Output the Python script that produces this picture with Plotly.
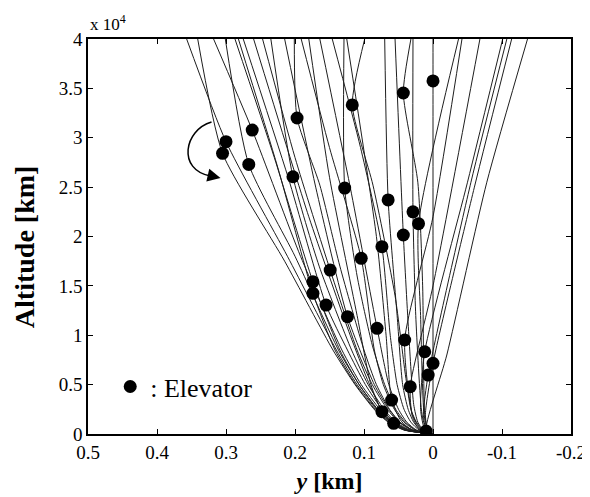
import plotly.graph_objects as go

# Elevator event points (lateral position y [km], altitude [km])
elev_x = [0.300, 0.305, 0.262, 0.267, 0.174, 0.174, 0.155, 0.149, 0.203, 0.057,
          0.124, 0.197, 0.104, 0.074, 0.128, 0.081, 0.074, 0.065, 0.117, 0.060,
          0.043, 0.043, 0.029, 0.000, 0.021, 0.041, 0.033, 0.012, 0.007, 0.000, 0.010]
elev_y = [29600, 28420, 30780, 27300, 15420, 14250, 13060, 16600, 26050, 1080,
          11880, 32000, 17790, 2260, 24900, 10700, 18970, 23700, 33320, 3440,
          20150, 34530, 22500, 35750, 21300, 9520, 4790, 8330, 5970, 7160, 300]

# Trajectories (x = lateral [km], y = altitude [km])
traj_x = [
    [0, 0.040, 0.062, 0.082, 0.110, 0.140, 0.211, 0.300, 0.357],
    [0, 0.042, 0.065, 0.084, 0.113, 0.145, 0.215, 0.305, 0.341],
    [0, 0.036, 0.058, 0.077, 0.104, 0.132, 0.192, 0.262, 0.318],
    [0, 0.038, 0.060, 0.080, 0.107, 0.137, 0.200, 0.267, 0.301],
    [0, 0.040, 0.062, 0.081, 0.107, 0.135, 0.174, 0.230, 0.287],
    [0, 0.041, 0.064, 0.084, 0.112, 0.142, 0.174, 0.225, 0.282],
    [0, 0.035, 0.056, 0.074, 0.098, 0.124, 0.155, 0.210, 0.275],
    [0, 0.030, 0.050, 0.066, 0.088, 0.110, 0.149, 0.200, 0.247],
    [0, 0.033, 0.054, 0.071, 0.094, 0.118, 0.165, 0.203, 0.235],
    [0, 0.035, 0.057, 0.075, 0.095, 0.120, 0.180, 0.260],
    [0, 0.030, 0.048, 0.064, 0.085, 0.124, 0.170, 0.215],
    [0, 0.030, 0.048, 0.063, 0.082, 0.100, 0.135, 0.164, 0.197, 0.201],
    [0, 0.026, 0.042, 0.056, 0.072, 0.085, 0.104, 0.150, 0.191],
    [0, 0.040, 0.060, 0.074, 0.090, 0.110, 0.150, 0.180],
    [0, 0.025, 0.040, 0.054, 0.070, 0.088, 0.110, 0.128, 0.129],
    [0, 0.024, 0.038, 0.050, 0.064, 0.081, 0.120, 0.164],
    [0, 0.020, 0.032, 0.042, 0.052, 0.062, 0.074, 0.105, 0.146],
    [0, 0.018, 0.028, 0.036, 0.044, 0.052, 0.065, 0.070],
    [0, 0.015, 0.024, 0.032, 0.040, 0.055, 0.087, 0.117, 0.099],
    [0, 0.030, 0.046, 0.060, 0.068, 0.082, 0.125],
    [0, 0.014, 0.022, 0.028, 0.035, 0.043, 0.055],
    [0, 0.008, 0.012, 0.015, 0.022, 0.043, 0.032],
    [0, 0.010, 0.016, 0.025, 0.029, 0.029],
    [0, 0.000, 0.000],
    [0, 0.008, 0.013, 0.018, 0.021, -0.037],
    [0, 0.018, 0.030, 0.041, 0.000, -0.042],
    [0, 0.020, 0.030, 0.033, 0.000, -0.068],
    [0, 0.012, 0.018, 0.012, -0.050, -0.101],
    [0, 0.010, 0.014, 0.007, -0.055, -0.107],
    [0, 0.008, 0.011, 0.000, -0.060, -0.114],
    [0, 0.010, -0.020, -0.078, -0.137],
]
traj_y = [
    [0, 400, 1200, 2500, 5000, 8500, 18000, 29600, 40000],
    [0, 400, 1200, 2400, 5000, 8500, 17500, 28420, 40000],
    [0, 400, 1200, 2500, 5000, 8500, 18000, 30780, 40000],
    [0, 400, 1200, 2500, 5000, 8500, 18000, 27300, 40000],
    [0, 400, 1200, 2500, 5000, 8500, 15420, 28000, 40000],
    [0, 400, 1200, 2500, 5000, 8500, 14250, 27000, 40000],
    [0, 400, 1200, 2500, 5000, 8500, 13060, 26000, 40000],
    [0, 400, 1200, 2500, 5000, 8500, 16600, 28000, 40000],
    [0, 400, 1200, 2500, 5000, 8500, 17000, 26050, 40000],
    [0, 400, 1080, 2500, 5500, 10000, 22000, 40000],
    [0, 400, 1200, 2500, 5000, 11880, 25000, 40000],
    [0, 400, 1200, 2500, 5000, 8500, 17000, 25200, 32000, 40000],
    [0, 400, 1200, 2500, 5000, 8500, 17790, 29000, 40000],
    [0, 400, 1100, 2260, 5000, 12000, 26000, 40000],
    [0, 400, 1200, 2500, 5000, 9000, 16000, 24900, 40000],
    [0, 400, 1200, 2500, 5000, 10700, 25000, 40000],
    [0, 400, 1200, 2500, 5000, 10000, 18970, 29000, 40000],
    [0, 400, 1200, 2500, 5000, 12000, 23700, 40000],
    [0, 400, 1200, 2500, 6000, 14000, 25200, 33320, 40000],
    [0, 400, 1300, 3440, 10000, 20000, 40000],
    [0, 400, 1200, 3000, 10000, 20150, 40000],
    [0, 500, 2000, 15000, 25500, 34530, 40000],
    [0, 500, 2000, 12000, 22500, 40000],
    [0, 35750, 40000],
    [0, 500, 2000, 12000, 21300, 40000],
    [0, 500, 2000, 9520, 22000, 40000],
    [0, 500, 1800, 4790, 15000, 40000],
    [0, 500, 2500, 8330, 25500, 40000],
    [0, 500, 2000, 5970, 25500, 40000],
    [0, 500, 2000, 7160, 25000, 40000],
    [0, 300, 8000, 25500, 40000],
]

x_ticks = [0.5, 0.4, 0.3, 0.2, 0.1, 0, -0.1, -0.2]
x_tick_text = ["0.5", "0.4", "0.3", "0.2", "0.1", "0", "-0.1", "-0.2"]
y_ticks = [0, 5000, 10000, 15000, 20000, 25000, 30000, 35000, 40000]
y_tick_text = ["0", "0.5", "1", "1.5", "2", "2.5", "3", "3.5", "4"]

FONT = "Liberation Serif, Times New Roman, serif"

fig = go.Figure()
for tx, ty in zip(traj_x, traj_y):
    fig.add_trace(go.Scatter(x=tx, y=ty, mode="lines",
                             line=dict(color="#1e1e1e", width=1, shape="spline", smoothing=0.6),
                             showlegend=False, hoverinfo="skip"))

fig.add_trace(go.Scatter(x=elev_x, y=elev_y, mode="markers",
                         marker=dict(color="black", size=13),
                         name=": Elevator", showlegend=True))

axis_common = dict(showline=True, linecolor="black", linewidth=1.5, mirror="ticks",
                   ticks="inside", ticklen=5, tickcolor="black", showgrid=False,
                   zeroline=False, tickfont=dict(family=FONT, size=19, color="black"))

fig.update_xaxes(range=[0.5, -0.2], tickvals=x_ticks, ticktext=x_tick_text,
                 title=dict(text="<b><i>y</i> [km]</b>", font=dict(family=FONT, size=24, color="black"),
                            standoff=11),
                 **axis_common)
fig.update_yaxes(range=[0, 40000], tickvals=y_ticks, ticktext=y_tick_text,
                 **axis_common)

# y-axis title placed as in the reference (slightly below the axis centre)
fig.add_annotation(x=0, y=0.473, xref="paper", yref="paper", xanchor="center", yanchor="middle",
                   xshift=-64, textangle=-90, showarrow=False, text="<b>Altitude [km]</b>",
                   font=dict(family=FONT, size=28, color="black"))

# curved arrow
fig.add_shape(type="path", xref="x", yref="y",
              path="M 0.321,31595 C 0.361,30785 0.371,26735 0.3225,26127",
              line=dict(color="black", width=1.5))
fig.add_annotation(x=0.308, y=25924, xref="x", yref="y", ax=-13, ay=-3,
                   showarrow=True, arrowhead=2, arrowsize=1.3, arrowwidth=2,
                   arrowcolor="black", text="", standoff=0)

fig.add_annotation(x=0, y=1, xref="paper", yref="paper", xanchor="left", yanchor="bottom",
                   yshift=3, showarrow=False, text="x 10<sup>4</sup>",
                   font=dict(family=FONT, size=17, color="black"))

fig.update_layout(width=590, height=497, plot_bgcolor="white", paper_bgcolor="white",
                  margin=dict(l=80, r=21, t=31, b=71),
                  legend=dict(x=0.046, y=0.12, xanchor="left", yanchor="middle",
                              bgcolor="rgba(0,0,0,0)",
                              font=dict(family=FONT, size=26, color="black")),
                  font=dict(family=FONT, color="black"))

fig.write_html("out.html")
